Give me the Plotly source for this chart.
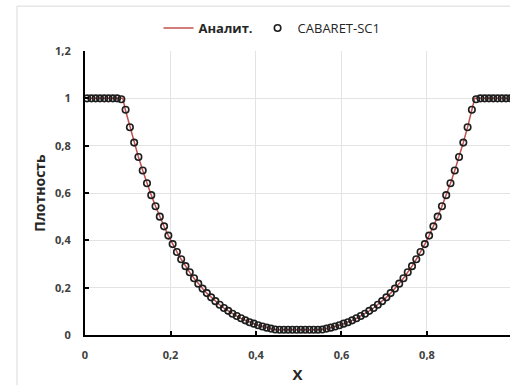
import numpy as np
import plotly.graph_objects as go

# Analytic solution (double rarefaction), density vs x
x_analytic = [0.0, 0.0883,
              0.095, 0.105, 0.115, 0.125, 0.135, 0.145, 0.155, 0.165, 0.175, 0.185,
              0.195, 0.205, 0.215, 0.225, 0.235, 0.245, 0.255, 0.265, 0.275, 0.285,
              0.295, 0.305, 0.315, 0.325, 0.335, 0.345, 0.355, 0.365, 0.375, 0.385,
              0.395, 0.405, 0.415, 0.425, 0.435, 0.445, 0.4477,
              0.5523, 0.555, 0.565, 0.575, 0.585, 0.595, 0.605, 0.615, 0.625, 0.635,
              0.645, 0.655, 0.665, 0.675, 0.685, 0.695, 0.705, 0.715, 0.725, 0.735,
              0.745, 0.755, 0.765, 0.775, 0.785, 0.795, 0.805, 0.815, 0.825, 0.835,
              0.845, 0.855, 0.865, 0.875, 0.885, 0.895, 0.905, 0.9117, 1.0]
rho_analytic = [1.0, 1.0,
                0.9473, 0.8783, 0.8134, 0.7524, 0.6951, 0.6413, 0.5910, 0.5438, 0.4997, 0.4585,
                0.4201, 0.3843, 0.3510, 0.3200, 0.2913, 0.2646, 0.2400, 0.2172, 0.1962, 0.1768,
                0.1590, 0.1427, 0.1277, 0.1140, 0.1015, 0.0902, 0.0799, 0.0705, 0.0620, 0.0544,
                0.0476, 0.0414, 0.0359, 0.0310, 0.0267, 0.0228, 0.0219,
                0.0219, 0.0228, 0.0267, 0.0310, 0.0359, 0.0414, 0.0476, 0.0544, 0.0620, 0.0705,
                0.0799, 0.0902, 0.1015, 0.1140, 0.1277, 0.1427, 0.1590, 0.1768, 0.1962, 0.2172,
                0.2400, 0.2646, 0.2913, 0.3200, 0.3510, 0.3843, 0.4201, 0.4585, 0.4997, 0.5438,
                0.5910, 0.6413, 0.6951, 0.7524, 0.8134, 0.8783, 0.9473, 1.0, 1.0]

# CABARET-SC1 cell-centre values on a 100-cell mesh
x_cells = np.round(np.arange(0.005, 1.0, 0.01), 3)
rho_cabaret = [
    1.0, 1.0, 1.0, 1.0, 1.0, 1.0, 1.0, 1.0, 0.996, 0.952,
    0.878, 0.813, 0.752, 0.695, 0.641, 0.591, 0.544, 0.500, 0.459, 0.420,
    0.384, 0.351, 0.320, 0.291, 0.265, 0.240, 0.217, 0.196, 0.177, 0.159,
    0.143, 0.128, 0.114, 0.102, 0.090, 0.080, 0.071, 0.062, 0.054, 0.048,
    0.041, 0.036, 0.031, 0.027, 0.0235, 0.0222, 0.0220, 0.0219, 0.0219, 0.0219,
    0.0219, 0.0219, 0.0219, 0.0220, 0.0222, 0.0235, 0.027, 0.031, 0.036, 0.041,
    0.048, 0.054, 0.062, 0.071, 0.080, 0.090, 0.102, 0.114, 0.128, 0.143,
    0.159, 0.177, 0.196, 0.217, 0.240, 0.265, 0.291, 0.320, 0.351, 0.384,
    0.420, 0.459, 0.500, 0.544, 0.591, 0.641, 0.695, 0.752, 0.813, 0.878,
    0.952, 0.996, 1.0, 1.0, 1.0, 1.0, 1.0, 1.0, 1.0, 1.0,
]

x_ticks = [0, 0.2, 0.4, 0.6, 0.8, 1.0]
x_tick_labels = ["0", "0,2", "0,4", "0,6", "0,8", "1"]
y_ticks = [0, 0.2, 0.4, 0.6, 0.8, 1.0, 1.2]
y_tick_labels = ["0", "0,2", "0,4", "0,6", "0,8", "1", "1,2"]

FONT = "Open Sans"
TICK_COLOR = "#404040"
TITLE_COLOR = "#262626"


def bold(labels):
    return [f"<b>{t}</b>" for t in labels]


fig = go.Figure()
fig.add_trace(go.Scatter(
    x=x_analytic, y=rho_analytic, mode="lines", name="<b>Аналит.</b>",
    line=dict(color="#C0504D", width=1.5),
))
fig.add_trace(go.Scatter(
    x=x_cells, y=rho_cabaret, mode="markers", name="CABARET-SC1",
    marker=dict(symbol="circle-open", size=6.5, color="#1e1e1e",
                line=dict(width=1.6, color="#1e1e1e")),
))

axis_common = dict(
    showgrid=True, gridcolor="#e3e3e3", gridwidth=1,
    showline=True, linecolor="black", linewidth=2,
    ticks="inside", ticklen=4, tickwidth=2, tickcolor="black",
    tickfont=dict(family=FONT, size=11, color=TICK_COLOR),
    zeroline=False,
)

fig.update_layout(
    width=510, height=385,
    margin=dict(l=85, r=0, t=51, b=50),
    paper_bgcolor="white", plot_bgcolor="white",
    font=dict(family=FONT),
    xaxis=dict(range=[0, 0.9942], tickvals=x_ticks, ticktext=bold(x_tick_labels),
               ticklabelstandoff=9,
               title=dict(text="<b>X</b>", font=dict(family=FONT, size=15, color=TITLE_COLOR),
                          standoff=8),
               **axis_common),
    yaxis=dict(range=[0, 1.2], tickvals=y_ticks, ticktext=bold(y_tick_labels),
               ticklabelstandoff=10,
               title=dict(text="<b>Плотность</b>",
                          font=dict(family=FONT, size=14, color=TITLE_COLOR),
                          standoff=6),
               **axis_common),
    legend=dict(orientation="h", x=0.44, y=1.081, xanchor="center", yanchor="middle",
                font=dict(family=FONT, size=13, color=TITLE_COLOR),
                itemwidth=30, bgcolor="rgba(0,0,0,0)"),
    shapes=[dict(type="rect", xref="paper", yref="paper",
                 x0=-0.16, x1=1.2, y0=-0.4, y1=1.158,
                 line=dict(color="#d9d9d9", width=1), layer="below")],
)

fig.write_html("out.html")
